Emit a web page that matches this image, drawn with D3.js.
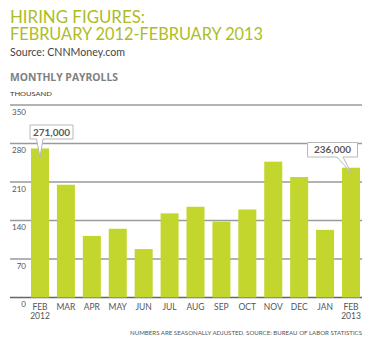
<!DOCTYPE html>
<html>
<head>
<meta charset="utf-8">
<script src="https://cdn.jsdelivr.net/npm/d3@7"></script>
<style>
  html, body { margin: 0; padding: 0; background: #fff; }
  svg { display: block; }
</style>
</head>
<body>
<svg id="chart" width="370" height="342"></svg>
<script>
const months = ["FEB", "MAR", "APR", "MAY", "JUN", "JUL", "AUG", "SEP", "OCT", "NOV", "DEC", "JAN", "FEB"];
const years = ["2012", "", "", "", "", "", "", "", "", "", "", "", "2013"];
const payrolls = [271, 205, 112, 125, 88, 153, 165, 138, 160, 247, 219, 123, 236];
const yTicks = [0, 70, 140, 210, 280, 350];
const callouts = [
  { index: 0, label: "271,000" },
  { index: 12, label: "236,000" }
];

const svg = d3.select("#chart");
const green = "#c2d62e";
const titleGreen = "#adbd1f";
const font = "Lato, 'Open Sans', sans-serif";

// Title (one text, two lines)
const title = svg.append("text")
  .attr("font-family", font).attr("font-size", 17.5).attr("fill", titleGreen);
title.append("tspan").attr("x", 10).attr("y", 23)
  .attr("textLength", 135).attr("lengthAdjust", "spacingAndGlyphs").text("HIRING FIGURES:");
title.append("tspan").attr("x", 10).attr("y", 39.5)
  .attr("textLength", 253).attr("lengthAdjust", "spacingAndGlyphs").text("FEBRUARY 2012-FEBRUARY 2013");

svg.append("text").attr("x", 10).attr("y", 56)
  .attr("font-family", font).attr("font-size", 11.5)
  .attr("fill", "#444").attr("textLength", 115).attr("lengthAdjust", "spacingAndGlyphs")
  .text("Source: CNNMoney.com");
svg.append("text").attr("x", 10).attr("y", 81)
  .attr("font-family", "'Open Sans', Lato, sans-serif").attr("font-size", 10.5).attr("font-weight", 700)
  .attr("fill", "#808080").attr("textLength", 108).attr("lengthAdjust", "spacingAndGlyphs")
  .text("MONTHLY PAYROLLS");
svg.append("text").attr("x", 10).attr("y", 95.5)
  .attr("font-family", font).attr("font-size", 6.5)
  .attr("fill", "#333").attr("textLength", 42).attr("lengthAdjust", "spacingAndGlyphs")
  .text("THOUSAND");

// Scales
const x = d3.scaleBand().domain(d3.range(payrolls.length)).range([31, 360]).paddingInner(0.305).paddingOuter(0);
const y = d3.scaleLinear().domain([0, 350]).range([297.5, 105]);

// Gridlines
svg.append("g").selectAll("line").data(yTicks).enter().append("line")
  .attr("x1", 10).attr("x2", 362)
  .attr("y1", d => y(d)).attr("y2", d => y(d))
  .attr("stroke", d => d === 0 ? "#666" : "#9a9a9a").attr("stroke-width", 1.5);

svg.append("g").selectAll("text").data(yTicks).enter().append("text")
  .attr("x", 26).attr("y", d => y(d) + 9.5)
  .attr("text-anchor", "end")
  .attr("font-family", font).attr("font-size", 8)
  .attr("fill", "#555")
  .text(d => d);

// Bars
svg.append("g").selectAll("rect").data(payrolls).enter().append("rect")
  .attr("x", (d, i) => x(i)).attr("width", x.bandwidth())
  .attr("y", d => y(d)).attr("height", d => y(0) - y(d))
  .attr("fill", green);

// X labels
const xl = svg.append("g");
xl.selectAll("text.m").data(months).enter().append("text")
  .attr("x", (d, i) => x(i) + x.bandwidth() / 2).attr("y", 309.5)
  .attr("text-anchor", "middle")
  .attr("font-family", font).attr("font-size", 8.5)
  .attr("fill", "#555").text(d => d);
xl.selectAll("text.yr").data(years).enter().append("text")
  .attr("x", (d, i) => x(i) + x.bandwidth() / 2).attr("y", 318.5)
  .attr("text-anchor", "middle")
  .attr("font-family", font).attr("font-size", 8.5)
  .attr("fill", "#555").text(d => d);

// Footnote
svg.append("text").attr("x", 362).attr("y", 335)
  .attr("text-anchor", "end")
  .attr("font-family", font).attr("font-size", 5.5)
  .attr("fill", "#555").attr("textLength", 232).attr("lengthAdjust", "spacingAndGlyphs")
  .text("NUMBERS ARE SEASONALLY ADJUSTED.  SOURCE: BUREAU OF LABOR STATISTICS");

// Callouts
const boxes = [
  { bx: 30, by: 125, bw: 43, bh: 14, t1: 36.5, t2: 43, tipDy: 9 },
  { bx: 307.5, by: 142.5, bw: 50, bh: 14.5, t1: 337, t2: 343, tipDy: 5 }
];
callouts.forEach((c, k) => {
  const b = boxes[k];
  const cx = x(c.index) + x.bandwidth() / 2;
  const tipY = y(payrolls[c.index]) + b.tipDy;
  const g = svg.append("g");
  const path = `M${b.bx},${b.by} H${b.bx + b.bw} V${b.by + b.bh} H${b.t2} L${cx},${tipY} L${b.t1},${b.by + b.bh} H${b.bx} Z`;
  g.append("path").attr("d", path).attr("fill", "#fff").attr("stroke", "#b8b8b8").attr("stroke-width", 1);
  g.append("text").attr("x", b.bx + b.bw / 2).attr("y", b.by + b.bh / 2 + 3.5)
    .attr("text-anchor", "middle")
    .attr("font-family", font).attr("font-size", 10).attr("font-weight", 700)
    .attr("fill", "#5a5a5a").text(c.label);
});
</script>
</body>
</html>
